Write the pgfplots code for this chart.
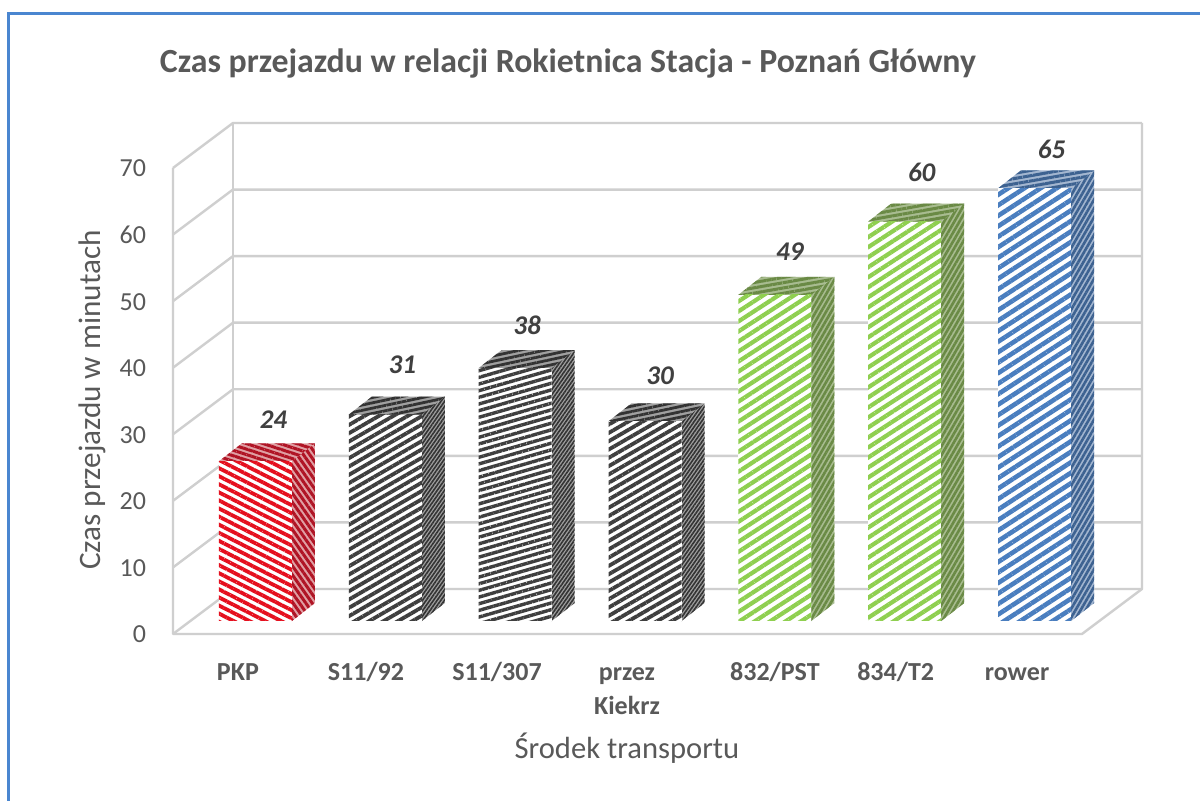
\documentclass[border=0pt]{standalone}
\usepackage{fontspec}
\setmainfont{Carlito}
\usepackage{pgfplots}
\pgfplotsset{compat=1.18}
\usetikzlibrary{patterns.meta}

% 1 px of the reference = 0.5pt here
\definecolor{wallc}{HTML}{CFCFCF}
\definecolor{textc}{HTML}{595959}
\definecolor{labelc}{HTML}{404040}
\definecolor{framec}{HTML}{4A86D0}
\definecolor{redA}{HTML}{E5101F}
\definecolor{redB}{HTML}{B01425}
\definecolor{redC}{HTML}{E0A0A4}
\definecolor{blkA}{HTML}{3F3F3F}
\definecolor{blkB}{HTML}{333333}
\definecolor{blkC}{HTML}{A0A0A0}
\definecolor{greA}{HTML}{8FCF50}
\definecolor{greB}{HTML}{6A8A45}
\definecolor{greC}{HTML}{A8BC90}
\definecolor{bluA}{HTML}{4A7EBF}
\definecolor{bluB}{HTML}{3D6291}
\definecolor{bluC}{HTML}{A3B6D0}

\tikzset{
  pat/.style n args={5}{draw=none,fill=#1,
    postaction={pattern={Lines[angle=#3,distance=#4pt,line width=#5pt]},pattern color=#2}},
  redF/.style={pat={white}{redA}{-27}{3.6}{1.9}},
  redS/.style={pat={redC}{redB}{-55}{2.6}{1.5}},
  redT/.style={pat={redC}{redB}{-18}{2.6}{1.5}},
  blaF/.style={pat={white}{blkA}{30}{3.6}{1.9}},
  blbF/.style={pat={white}{blkA}{16}{3.2}{1.7}},
  blaS/.style={pat={blkC}{blkB}{55}{1.5}{0.8}},
  blaT/.style={pat={blkC}{blkB}{12}{2.6}{1.4}},
  greF/.style={pat={white}{greA}{33}{4.2}{2.1}},
  greS/.style={pat={greC}{greB}{60}{2.2}{1.3}},
  greT/.style={pat={greC}{greB}{10}{2.6}{1.5}},
  bluF/.style={pat={white}{bluA}{33}{4.4}{2.3}},
  bluS/.style={pat={bluC}{bluB}{60}{2.2}{1.3}},
  bluT/.style={pat={bluC}{bluB}{10}{2.6}{1.5}},
}

% one bar: x of front centre, value, styles of front, top, side, label shift in px
\newcommand{\cube}[7]{%
  \pgfmathsetmacro\xl{#1-0.281}\pgfmathsetmacro\xr{#1+0.281}%
  \pgfmathsetmacro\xb{#1+0.281+0.177}\pgfmathsetmacro\xc{#1-0.281+0.177}%
  \pgfmathsetmacro\ya{1.95}\pgfmathsetmacro\yb{1.95+2.70}%
  \pgfmathsetmacro\yt{#2+1.95}\pgfmathsetmacro\yu{#2+1.95+2.70}%
  \addplot[#5] coordinates {(\xr,\ya)(\xb,\yb)(\xb,\yu)(\xr,\yt)} -- cycle;
  \addplot[#4] coordinates {(\xl,\yt)(\xr,\yt)(\xb,\yu)(\xc,\yu)} -- cycle;
  \addplot[ybar,bar width=36.5pt,bar shift=0pt,yshift=6.5pt,#3] coordinates {(#1,#2)};
  \addplot[draw=none,no markers,
    nodes near coords={\bfseries\itshape #2},
    every node near coord/.style={anchor=center,inner sep=0pt,text=labelc,font=\fontsize{13.5pt}{16pt}\selectfont,
      xshift=#6*0.5pt,yshift=#7*0.5pt}] coordinates {(#1,#2)};
}

\begin{document}
\begin{tikzpicture}
  \path[use as bounding box] (0,0) rectangle (600pt,400.5pt);
  \fill[white] (0,0) rectangle (600pt,400.5pt);
  \begin{axis}[
      at={(86.5pt,83.5pt)},anchor=south west,
      scale only axis,width=454.5pt,height=233pt,
      xmin=0,xmax=7,ymin=0,ymax=70,
      clip=false,
      axis line style={draw=none},
      tick style={draw=none},
      ytick={0,10,...,70},
      xtick={0.50,1.486,2.495,3.496,4.635,5.565,6.500},
      xticklabels={PKP,S11/92,S11/307,{przez\\Kiekrz},832/PST,834/T2,rower},
      typeset ticklabels with strut,
      /pgf/number format/assume math mode=true,
      yticklabel style={font=\fontsize{13pt}{15pt}\selectfont,text=textc,xshift=-10pt,yshift=-1.5pt},
      xticklabel style={font=\fontsize{13pt}{17pt}\selectfont\bfseries,text=textc,
        align=center,anchor=north,yshift=-8pt},
      title={\bfseries Czas przejazdu w relacji Rokietnica Stacja - Poznań Główny},
      title style={at={(axis description cs:0.4345,1.1975)},anchor=center,
        font=\fontsize{16.9pt}{20pt}\selectfont,text=textc},
      xlabel={Środek transportu},
      xlabel style={at={(axis description cs:0.4994,-0.2446)},anchor=center,
        font=\fontsize{15.3pt}{18pt}\selectfont,text=textc},
      ylabel={Czas przejazdu w minutach},
      ylabel style={at={(axis description cs:-0.0891,0.502)},anchor=center,
        font=\fontsize{15.6pt}{18pt}\selectfont,text=textc},
      every axis plot/.append style={forget plot},
      wall/.style={draw=wallc,line width=1.2pt,no markers,line join=round},
    ]
    % walls and grid
    \addplot[wall] coordinates {(0,0)(0.462,6.76)(7.462,6.76)};
    \addplot[wall] coordinates {(0,10)(0.462,16.76)(7.462,16.76)};
    \addplot[wall] coordinates {(0,20)(0.462,26.76)(7.462,26.76)};
    \addplot[wall] coordinates {(0,30)(0.462,36.76)(7.462,36.76)};
    \addplot[wall] coordinates {(0,40)(0.462,46.76)(7.462,46.76)};
    \addplot[wall] coordinates {(0,50)(0.462,56.76)(7.462,56.76)};
    \addplot[wall] coordinates {(0,60)(0.462,66.76)(7.462,66.76)};
    \addplot[wall] coordinates {(0,70)(0.462,76.76)(7.462,76.76)};
    \addplot[wall] coordinates {(0,70)(0,0)(7,0)(7.462,6.76)(7.462,76.76)};
    \addplot[wall] coordinates {(0.462,6.76)(0.462,76.76)};
    % bars
    \cube{0.635}{24}{redF}{redT}{redS}{18}{55}
    \cube{1.635}{31}{blaF}{blaT}{blaS}{17}{63}
    \cube{2.635}{38}{blbF}{blaT}{blaS}{12}{56}
    \cube{3.635}{30}{blaF}{blaT}{blaS}{15}{59}
    \cube{4.635}{49}{greF}{greT}{greS}{15}{56}
    \cube{5.635}{60}{greF}{greT}{greS}{17}{62}
    \cube{6.635}{65}{bluF}{bluT}{bluS}{17}{52}
  \end{axis}
  \draw[framec,line width=1.5pt] (600pt,393.5pt) -- (4.3pt,393.5pt) -- (4.3pt,0);
\end{tikzpicture}
\end{document}
